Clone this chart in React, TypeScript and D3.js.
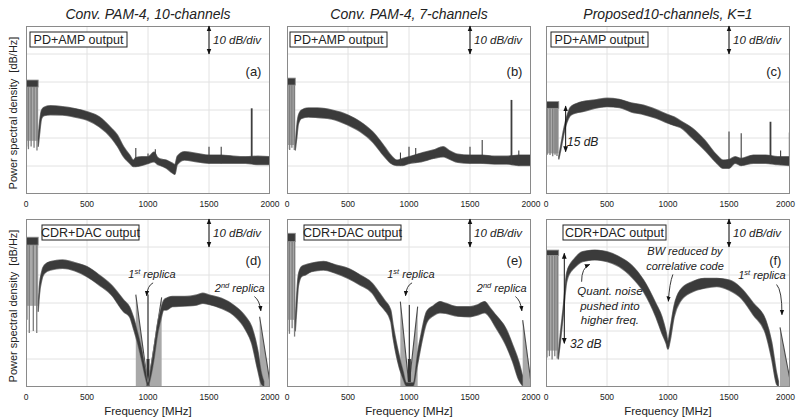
import React from 'react';
import * as d3 from 'd3';

// ---------- text / ticks ----------
const FREQ_TICKS = [0, 500, 1000, 1500, 2000];
const DB_GRID = [10, 20, 30, 40, 50];
const F_DOMAIN = [0, 2000];
const DB_DOMAIN = [0, 60];
const TITLES = ['Conv. PAM-4, 10-channels', 'Conv. PAM-4, 7-channels', 'Proposed10-channels, K=1'];
const LEGENDS = ['PD+AMP output', 'CDR+DAC output'];
const LETTERS = ['(a)', '(b)', '(c)', '(d)', '(e)', '(f)'];
const Y_LABEL = 'Power spectral density  [dB/Hz]';
const X_LABEL = 'Frequency [MHz]';
const DIV_LABEL = '10 dB/div';

// ---------- panel (a) ----------
const aFreq = [100,110,128,150,200,300,400,500,600,700,750,800,850,880,900,950,1000,1050,1080,1100,1150,1200,1220,1240,1300,1400,1500,1600,1700,1800,1900,2000];
const aHi = [20,25,30,31,31.5,31.2,30.5,29.4,27.6,23.5,21,16.9,13.9,12.1,13,13.3,13.3,15,13,12.5,12.1,11,10.5,13.5,15.1,14.5,13.9,13.9,13.5,13.3,13.5,13.3];
const aLo = [17,21,27,28,28.3,28.2,27.5,26.4,24,20,17,13.3,11,9.8,9.8,10.2,10.9,11.5,10.5,10.2,9.2,7.5,7,10.5,12.1,11.5,11,11,11,11,10.5,10.5];
const aComb = [100, 40.7, 38.2, 19]; // end freq, hi, lo, floor
const aCombSpikeF = [5, 20, 42, 66, 90];
const aCombSpikeV = [17, 16, 17, 16.5, 15.5];
const aSpikeF = [900, 1000, 1060, 1500, 1600, 1850];
const aSpikeV = [16.4, 14.5, 16, 16.9, 16.9, 30.6];

// ---------- panel (b) ----------
const bFreq = [68,80,93,120,175,250,366,500,600,700,800,850,900,950,1000,1100,1200,1280,1330,1400,1500,1600,1700,1800,1900,2000];
const bHi = [17,24,28,30,30.7,30.7,30,28.2,25.8,22.3,16.9,13.9,12.1,12.7,13.3,14.6,15.7,16.9,15.5,14.2,13.9,13.9,13.5,13.5,13.9,13.9];
const bLo = [15.7,20,25,27,27.5,27.3,26.8,24.6,22.3,18.7,13.3,11,10.2,10.2,10.9,11.5,12.7,13.3,12.5,11.3,11,11,10.7,10.7,10.2,10.2];
const bComb = [68, 41.4, 38.9, 17.5];
const bCombSpikeF = [5, 22, 40, 60];
const bCombSpikeV = [16, 15.7, 16.5, 15.7];
const bSpikeF = [930, 1000, 1055, 1500, 1600, 1840, 1900];
const bSpikeV = [14.8, 16.9, 16.4, 16.9, 19.3, 33.6, 15.5];

// ---------- panel (c) ----------
const cFreq = [105,120,140,160,180,200,250,300,400,500,600,700,800,900,1000,1050,1100,1200,1300,1400,1450,1500,1550,1600,1700,1800,1900,2000];
const cHi = [13.5,17,22,26,29,31,32.3,33,33.6,34.2,33.8,32.5,31.7,30.2,28.3,27.5,26.2,23.5,19.3,13.9,12.1,12.3,13.3,12.7,13.9,13.9,13.3,13.3];
const cLo = [12.5,15.5,20,24,26.5,28,29,29.4,30.6,31.2,30.9,29.3,28.4,27.1,25.3,24.5,23.8,19.9,15.7,11,9.2,9.2,11,10.2,11,11,10.5,10.2];
const cComb = [105, 33, 30.6, 14.5];
const cCombSpikeF = [10, 33, 55, 74, 90];
const cCombSpikeV = [14, 13.9, 13.5, 14, 13.6];
const cSpikeF = [1500, 1600, 1840, 1923, 1995];
const cSpikeV = [22.3, 21.7, 25.8, 15.5, 22];

// ---------- panel (d) ----------
const dFreq = [100,110,128,150,200,300,400,500,600,700,800,850,880,900,950,980,1000,1020,1050,1080,1100,1130,1150,1200,1300,1400,1450,1500,1600,1700,1800,1850,1900,1930,1950];
const dHi = [29,36,41,43.5,44.8,45.4,44.4,43,40,36.4,31.1,28.5,25,22,13,6,1.5,6,14,23,27,31,31.7,32.3,32.3,32.9,33.5,32.9,31.7,29.3,25.1,21.5,13,5,2];
const dLo = [27,33,38,40.5,41.8,42.4,41.5,39.4,36.4,32.9,26.9,25,21,18,9,3,0.3,3,10,19,23,27.5,27.5,28.7,28.9,29.3,29.9,29.5,28.1,25.7,20.4,15.6,6,1,0.3];
const dComb = [100, 53.5, 50.7, 29];
const dCombSpikeF = [8, 27, 60, 88];
const dCombSpikeV = [24, 19.3, 20, 19.3];
const dNotchF = [900, 900, 1000, 1112, 1112];
const dNotchV = [0, 33, 0.5, 32, 0];
const dReplicaF = [1915, 1915, 2000, 2000];
const dReplicaV = [0, 25.1, 1.5, 0];
const dCenter = [1000, 33];

// ---------- panel (e) ----------
const eFreq = [68,80,93,120,150,200,300,400,500,600,700,760,800,850,870,900,950,980,1035,1070,1100,1145,1200,1254,1300,1400,1500,1560,1620,1660,1700,1800,1850,1900,1930];
const eHi = [24,33,40,43,43.6,44.2,44.8,43.6,42.4,40,37,33.5,31,27.5,22,15,6,1.5,1.5,12,19,27,29,30.5,29.9,28.7,28.7,29.3,30.5,28.5,26.3,20.4,15,9,4];
const eLo = [20,28,36,39.5,40,41.2,41.8,40.6,38.8,36.4,33.5,29.5,27.5,23.5,17.5,10.5,3,0.3,0.3,8,15,23,25.5,26.5,26.3,25.3,25.1,25.7,26.5,25,22.1,14.4,9,2.5,0.5];
const eComb = [68, 54.9, 51.9, 24];
const eCombSpikeF = [5, 20, 42, 62];
const eCombSpikeV = [20, 19, 21, 18];
const eNotchF = [929, 929, 1000, 1071, 1071];
const eNotchV = [0, 30.5, 0.3, 28.7, 0];
const eReplicaF = [1932, 1932, 2000, 2000];
const eReplicaV = [0, 23.9, 1.5, 0];
const eCenter = [1003, 29.3];

// ---------- panel (f) ----------
const fFreq = [101,120,142,169,200,224,300,400,500,600,700,800,900,950,985,1000,1015,1050,1100,1200,1300,1400,1500,1600,1700,1800,1850,1890,1905];
const fHi = [12,20,28.7,40.6,44,45.4,48.3,48.9,48.3,46.5,43.6,38.2,29.9,25.1,19.5,16.5,20,29,34.6,37.6,38.8,38.8,38.2,35.3,29.9,24,16,5,2];
const fLo = [10,17,26,37.5,41,42.2,44.8,45.4,44.8,43,39.4,34,25.1,19.2,15.5,13.5,16,25,30.5,34,35.3,35.9,34.6,31.7,25.7,19,10,1,0.3];
const fComb = [104, 48.9, 47, 13];
const fCombSpikeF = [8, 28, 50, 72, 92];
const fCombSpikeV = [10.5, 11, 9.8, 11, 10.2];
const fReplicaF = [1918, 1918, 2000, 2000];
const fReplicaV = [0, 21.3, 2.5, 0];

// ---------- layout ----------
const COL_X = [26, 287, 546];
const ROW_Y = [26, 219];
const PW = 244;
const PH = 168;
const LEGEND_OFF = [4, 3, 5, 16, 17, 17];
const LEGEND_W = [97, 97, 97, 97, 97, 103];
const FONT = '"Liberation Sans", Arial, Helvetica, sans-serif';
const BAND = '#3b3b3b';
const FUZZ = '#8f8f8f';
const LIGHT = '#a9a9a9';

type PanelDef = {
  idx: number; col: number; row: number;
  freq: number[]; hi: number[]; lo: number[];
  comb: number[]; combSpikeF: number[]; combSpikeV: number[];
  spikeF: number[]; spikeV: number[];
  polys: { f: number[]; v: number[] }[];
  center: number[] | null;
};

const PANELS: PanelDef[] = [
  { idx: 0, col: 0, row: 0, freq: aFreq, hi: aHi, lo: aLo, comb: aComb, combSpikeF: aCombSpikeF, combSpikeV: aCombSpikeV, spikeF: aSpikeF, spikeV: aSpikeV, polys: [], center: null },
  { idx: 1, col: 1, row: 0, freq: bFreq, hi: bHi, lo: bLo, comb: bComb, combSpikeF: bCombSpikeF, combSpikeV: bCombSpikeV, spikeF: bSpikeF, spikeV: bSpikeV, polys: [], center: null },
  { idx: 2, col: 2, row: 0, freq: cFreq, hi: cHi, lo: cLo, comb: cComb, combSpikeF: cCombSpikeF, combSpikeV: cCombSpikeV, spikeF: cSpikeF, spikeV: cSpikeV, polys: [], center: null },
  { idx: 3, col: 0, row: 1, freq: dFreq, hi: dHi, lo: dLo, comb: dComb, combSpikeF: dCombSpikeF, combSpikeV: dCombSpikeV, spikeF: [], spikeV: [], polys: [{ f: dNotchF, v: dNotchV }, { f: dReplicaF, v: dReplicaV }], center: dCenter },
  { idx: 4, col: 1, row: 1, freq: eFreq, hi: eHi, lo: eLo, comb: eComb, combSpikeF: eCombSpikeF, combSpikeV: eCombSpikeV, spikeF: [], spikeV: [], polys: [{ f: eNotchF, v: eNotchV }, { f: eReplicaF, v: eReplicaV }], center: eCenter },
  { idx: 5, col: 2, row: 1, freq: fFreq, hi: fHi, lo: fLo, comb: fComb, combSpikeF: fCombSpikeF, combSpikeV: fCombSpikeV, spikeF: [], spikeV: [], polys: [{ f: fReplicaF, v: fReplicaV }], center: null },
];

function interp(xs: number[], ys: number[], f: number) {
  const i = d3.bisectLeft(xs, f);
  if (i <= 0) return ys[0];
  if (i >= xs.length) return ys[ys.length - 1];
  const t = (f - xs[i - 1]) / (xs[i] - xs[i - 1]);
  return ys[i - 1] + t * (ys[i] - ys[i - 1]);
}

function Sup({ base, sup, rest }: { base: string; sup: string; rest: string }) {
  return (
    <>
      {base}
      <tspan fontSize={7.5} dy={-4}>{sup}</tspan>
      <tspan dy={4}>{rest}</tspan>
    </>
  );
}

function Panel({ p }: { p: PanelDef }) {
  const x0 = COL_X[p.col];
  const y0 = ROW_Y[p.row];
  const x = d3.scaleLinear().domain(F_DOMAIN).range([x0, x0 + PW]);
  const y = d3.scaleLinear().domain(DB_DOMAIN).range([y0 + PH, y0]);
  const area = d3.area<number>()
    .x((_, i) => x(p.freq[i]))
    .y0((_, i) => y(p.lo[i]))
    .y1((_, i) => y(p.hi[i]))
    .curve(d3.curveMonotoneX)(p.freq) || '';
  const [cEnd, cHi, cLo, cFloor] = p.comb;
  const polyLine = d3.line<number>();
  const txt = { fontFamily: FONT, fill: '#222' } as const;
  const it = { ...txt, fontStyle: 'italic' } as const;
  const clipId = `clip${p.idx}`;
  const ann: React.ReactNode[] = [];
  const curve = (a: number[], c: number[], b: number[]) =>
    `M${x(a[0])},${y(a[1])} Q${x(c[0])},${y(c[1])} ${x(b[0])},${y(b[1])}`;
  const arrowStyle = { fill: 'none', stroke: '#222', strokeWidth: 0.9 };

  if (p.idx === 2) {
    ann.push(<line key="a15" x1={x(161)} x2={x(161)} y1={y(31.4)} y2={y(15.1)} stroke="#111" strokeWidth={1} markerStart="url(#arr)" markerEnd="url(#arr)" />);
    ann.push(<text key="t15" x={x(172)} y={y(17.3)} fontSize={12} {...it}>15 dB</text>);
  }
  if (p.idx === 3 || p.idx === 4) {
    const s = p.idx === 3 ? 0 : -17;
    ann.push(<text key="r1" x={x(1033 + s)} y={y(38.9)} fontSize={11} textAnchor="middle" {...it}><Sup base="1" sup="st" rest=" replica" /></text>);
    ann.push(<path key="r1a" d={curve([1042 + s, 37.2], [995 + s, 36.2], [989 + s, 32.6])} {...arrowStyle} markerEnd="url(#arr)" />);
    ann.push(<text key="r2" x={x(1752 - s / 2)} y={y(33.9)} fontSize={11} textAnchor="middle" {...it}><Sup base="2" sup="nd" rest=" replica" /></text>);
    ann.push(<path key="r2a" d={curve([1872, 32.3], [1915, 31], [1925, 27.2])} {...arrowStyle} markerEnd="url(#arr)" />);
  }
  if (p.idx === 5) {
    ann.push(<text key="bw1" x={x(1139)} y={y(47.1)} fontSize={11} textAnchor="middle" {...it}>BW reduced by</text>);
    ann.push(<text key="bw2" x={x(1139)} y={y(41.8)} fontSize={11} textAnchor="middle" {...it}>correlative code</text>);
    ann.push(<path key="bwa" d={curve([1040, 40.2], [1012, 37], [1003, 30.6])} {...arrowStyle} markerEnd="url(#arr)" />);
    ann.push(<text key="rr" x={x(1770)} y={y(38.6)} fontSize={11} textAnchor="middle" {...it}><Sup base="1" sup="st" rest=" replica" /></text>);
    ann.push(<path key="rra" d={curve([1890, 36.6], [1935, 34.5], [1934, 25.8])} {...arrowStyle} markerEnd="url(#arr)" />);
    ann.push(<text key="q1" x={x(524)} y={y(32.9)} fontSize={11.5} textAnchor="middle" {...it}>Quant. noise</text>);
    ann.push(<text key="q2" x={x(524)} y={y(27.5)} fontSize={11.5} textAnchor="middle" {...it}>pushed into</text>);
    ann.push(<text key="q3" x={x(524)} y={y(22.5)} fontSize={11.5} textAnchor="middle" {...it}>higher freq.</text>);
    ann.push(<path key="qa" d={curve([292, 37.6], [290, 42.5], [358, 43.8])} {...arrowStyle} markerEnd="url(#arr)" />);
    ann.push(<line key="a32" x1={x(150)} x2={x(150)} y1={y(47.75)} y2={y(15.6)} stroke="#111" strokeWidth={1} markerStart="url(#arr)" markerEnd="url(#arr)" />);
    ann.push(<text key="t32" x={x(197)} y={y(14)} fontSize={12} {...it}>32 dB</text>);
  }

  const legendX = x0 + LEGEND_OFF[p.idx];
  const legendW = LEGEND_W[p.idx];
  const legendText = LEGENDS[p.row];
  const lastCol = p.col === 2;

  return (
    <g>
      <defs>
        <clipPath id={clipId}><rect x={x0} y={y0} width={PW} height={PH} /></clipPath>
      </defs>
      <rect x={x0} y={y0} width={PW} height={PH} fill="#fff" />
      {FREQ_TICKS.slice(1, -1).map((f) => (
        <line key={'vg' + f} x1={x(f)} x2={x(f)} y1={y0} y2={y0 + PH} stroke="#e2e2e2" strokeWidth={1} />
      ))}
      {DB_GRID.map((v) => (
        <line key={'hg' + v} x1={x0} x2={x0 + PW} y1={y(v)} y2={y(v)} stroke="#e2e2e2" strokeWidth={1} />
      ))}
      <g clipPath={`url(#${clipId})`}>
        {/* low-frequency channel comb */}
        <rect x={x(0)} y={y(cLo)} width={x(cEnd) - x(0)} height={y(cFloor) - y(cLo)} fill={LIGHT} />
        {p.combSpikeF.map((f, i) => (
          <line key={'cs' + i} x1={x(f)} x2={x(f)} y1={y(cLo)} y2={y(p.combSpikeV[i])} stroke="#7d7d7d" strokeWidth={1.3} />
        ))}
        <rect x={x(0)} y={y(cHi)} width={x(cEnd) - x(0)} height={y(cLo) - y(cHi)} fill={BAND} stroke={FUZZ} strokeWidth={0.8} />
        {/* replicas / notch combs */}
        {p.polys.map((poly, k) => (
          <g key={'pl' + k}>
            <path d={(polyLine(poly.f.map((f, i) => [x(f), y(poly.v[i])]) as any) || '') + 'Z'} fill={LIGHT} stroke="none" />
            <path d={polyLine(poly.f.slice(1, -1).map((f, i) => [x(f), y(poly.v[i + 1])]) as any) || ''} fill="none" stroke="#4a4a4a" strokeWidth={1.1} />
          </g>
        ))}
        {p.center && (
          <g>
            <line x1={x(p.center[0])} x2={x(p.center[0])} y1={y(0)} y2={y(p.center[1])} stroke="#444" strokeWidth={1.3} />
            <line x1={x(p.center[0])} x2={x(p.center[0])} y1={y(0)} y2={y(10)} stroke="#333" strokeWidth={3} />
          </g>
        )}
        {/* main spectrum band: soft noisy edge + dark core */}
        <path d={area} fill={FUZZ} stroke={FUZZ} strokeWidth={1.4} strokeLinejoin="round" />
        <path d={area} fill={BAND} stroke={BAND} strokeWidth={0.3} strokeLinejoin="round" />
        {p.spikeF.map((f, i) => (
          <line key={'sp' + i} x1={x(f)} x2={x(f)} y1={y(interp(p.freq, p.lo, f))} y2={y(p.spikeV[i])} stroke="#3e3e3e" strokeWidth={p.spikeV[i] > 25 ? 1.8 : 1.1} />
        ))}
      </g>
      <rect x={x0 + 0.5} y={y0 + 0.5} width={PW - 1} height={PH - 1} fill="none" stroke="#8a8a8a" strokeWidth={1} />
      {/* tick labels */}
      {FREQ_TICKS.map((f, i) => {
        const isLast = lastCol && i === FREQ_TICKS.length - 1;
        return (
          <text key={'tl' + f} x={isLast ? 795 : x(f)} y={y0 + PH + 12.5} fontSize={8.5} textAnchor={isLast ? 'end' : 'middle'} {...txt}>{f}</text>
        );
      })}
      {/* legend box */}
      <rect x={legendX} y={y0 + 6} width={legendW} height={15} fill="#fff" stroke="#222" strokeWidth={1} />
      <text x={legendX + legendW / 2} y={y0 + 18} fontSize={12.5} textAnchor="middle" {...txt}>{legendText}</text>
      {/* 10 dB/div */}
      <line x1={x(1500)} x2={x(1500)} y1={y(60)} y2={y(50)} stroke="#111" strokeWidth={1} markerStart="url(#arr)" markerEnd="url(#arr)" />
      <text x={x(1500) + 4} y={y(55) + 4} fontSize={11.5} {...it}>{DIV_LABEL}</text>
      {/* letter */}
      <text x={x(1930)} y={y(p.row === 0 ? 42 : 43.5)} fontSize={13} textAnchor="end" {...txt}>{LETTERS[p.idx]}</text>
      {ann}
      {p.row === 1 && (
        <text x={x(1000)} y={415} fontSize={11.5} textAnchor="middle" {...txt}>{X_LABEL}</text>
      )}
      {p.row === 0 && (
        <text x={x(1000)} y={19} fontSize={14} textAnchor="middle" {...it}>{TITLES[p.col]}</text>
      )}
    </g>
  );
}

export default function App() {
  return (
    <svg width={796} height={419} style={{ position: 'absolute', left: 0, top: 0, background: '#fff' }}>
      <defs>
        <marker id="arr" viewBox="0 0 10 10" refX="9" refY="5" markerWidth="6" markerHeight="6" orient="auto-start-reverse">
          <path d="M0,1 L10,5 L0,9 z" fill="#111" />
        </marker>
      </defs>
      <rect x={0} y={0} width={796} height={419} fill="#fff" />
      {PANELS.map((p) => <Panel key={p.idx} p={p} />)}
      {ROW_Y.map((y0, r) => (
        <text key={'yl' + r} transform={`translate(17,${y0 + PH / 2 + 3}) rotate(-90)`} fontSize={11} textAnchor="middle" fontFamily={FONT} fill="#222" style={{ whiteSpace: 'pre' }}>{Y_LABEL}</text>
      ))}
    </svg>
  );
}
